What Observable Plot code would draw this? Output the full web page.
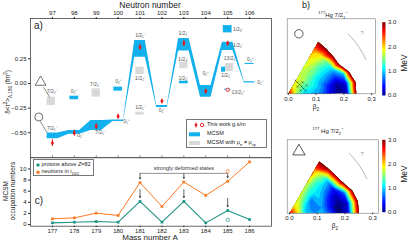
<!DOCTYPE html>
<html><head><meta charset="utf-8">
<script src="https://cdn.jsdelivr.net/npm/d3@7"></script>
<script src="https://cdn.jsdelivr.net/npm/@observablehq/plot@0.6"></script>
<style>
html,body{margin:0;padding:0;background:#fff;overflow:hidden}
#fig{position:relative;width:415px;height:242px;overflow:hidden;font-family:"Liberation Sans",Arial,sans-serif;color:#222;background:#fff}
.t{position:absolute;white-space:nowrap;line-height:1;transform:translate(-50%,-50%)}
.rot{transform:translate(-50%,-50%) rotate(-90deg)}
.t sub,.t sup{font-size:70%;line-height:0}
.leg{position:absolute;border:0.8px solid #777;background:#fff;font-size:5.5px;box-sizing:border-box}
.leg .r{position:absolute;white-space:nowrap;line-height:1;transform:translateY(-50%)}
.leg sub{font-size:70%;line-height:0}
</style></head><body><div id="fig"></div>
<script>
// ================= DATA =================
const neutronTicks = [97, 98, 99, 100, 101, 102, 103, 104, 105, 106];
const massTicks = [177, 178, 179, 180, 181, 182, 183, 184, 185, 186];
const aYTicks = [-0.5, -0.25, 0, 0.25];
const cYTicks = [0, 2, 4, 6, 8, 10];

// panel a: this work, delta <r2> (fm2)
const expN   = [97, 98, 99, 100, 101, 102, 103, 104, 105];
const expVal = [-0.604, -0.503, -0.435, -0.334, 0.367, -0.179, 0.408, -0.078, 0.408];
const expErr = [0.035, 0.03, 0.03, 0.02, 0.03, 0.01, 0.03, 0.012, 0.02];
const expOpenN = [105];
const expOpenVal = [-0.064];

// MCSM band (low / high edge per neutron number)
const bandN  = [97, 98, 99, 100, 101, 102, 103, 104, 105, 106];
const bandLo = [-0.56, -0.516, -0.476, -0.385, 0.266, -0.243, 0.33, -0.14, 0.334, 0.004];
const bandHi = [-0.503, -0.476, -0.375, -0.37, 0.435, -0.223, 0.455, -0.02, 0.418, 0.018];

// other MCSM states (blue)
const mcsmN  = [98, 100, 103, 105, 105, 105, 106];
const mcsmLo = [-0.165, -0.078, -0.003, 0.513, 0.114, -0.068, 0.192];
const mcsmHi = [-0.129, -0.037, 0.023, 0.587, 0.165, -0.058, 0.204];
// MCSM with mu_pi != mu_sp (grey)
const grayN  = [97, 99, 101, 101, 103, 105];
const grayLo = [-0.223, -0.139, 0.091, -0.322, 0.149, 0.121];
const grayHi = [-0.139, -0.054, 0.165, -0.292, 0.216, 0.202];

// level labels
const levelText = ["7/2₂⁻","0₂⁺","7/2₂⁻","0₂⁺","7/2₁⁻","0₁⁺","7/2₁⁻","0₁⁺","1/2₁⁻","1/2₂⁻","1/2₁⁻","0₁⁺","1/2₁⁻","1/2₃⁻","1/2₂⁻","0₁⁺","1/2₃⁻","1/2₁⁻","13/2₁⁺","1/2₂⁻","13/2₂⁺","0₂⁺","0₁⁺"];
const levelN = [96.99,97.99,98.97,100.02,96.99,98.28,99.19,100.38,101.02,101.02,101.02,102.0,103.0,103.0,103.0,104.0,105.49,105.49,105.13,104.95,105.49,106.04,106.5];
const levelY = [-0.078,-0.078,-0.013,0.02,-0.459,-0.526,-0.493,-0.382,0.486,0.05,-0.243,-0.273,0.506,0.243,0.054,0.104,0.547,0.385,0.253,0.081,-0.088,0.243,0.01];

// panel c: MCSM occupation numbers
const protonsOcc  = [0.3, 0.42, 0.54, 0.42, 4.16, 0.42, 4.16, 0.3, 2.53, 0.9];
const neutronsOcc = [1.03, 1.2, 2.05, 1.63, 7.54, 3.25, 7.65, 5.24, 7.78, 11.27];
const openA = [185];
const openProtons = [0.85];
const openNeutrons = [9.58];
const deformedA = [181, 183, 185];

// panel b: potential energy surfaces (MeV) on a beta-gamma grid
const pesGamma = [0, 10, 20, 30, 40, 50, 60];
const pesBeta  = [0.03, 0.06, 0.09, 0.12, 0.15, 0.18, 0.21];
const pesOriginE = [2.8, 2.8];
const pesRimE = 3.1;
const pesRim1 = [0.245, 0.245, 0.232, 0.211, 0.21, 0.212, 0.215];
const pesE1 = [
  [1.7, 1.1, 1.0, 0.8, 0.4, 0.05, 0.2],
  [1.7, 1.2, 1.1, 0.9, 0.45, 0.1, 0.35],
  [1.8, 1.4, 1.3, 1.0, 0.8, 0.6, 1.0],
  [1.8, 1.5, 1.4, 1.2, 1.1, 1.1, null],
  [1.9, 1.7, 1.6, 1.5, 1.4, 1.5, null],
  [1.9, 1.8, 1.7, 1.7, 1.8, 2.0, null],
  [2.0, 1.9, 1.8, 1.9, 2.0, 2.2, null]
];
const pesRim2 = [0.25, 0.25, 0.24, 0.222, 0.215, 0.213, 0.215];
const pesE2 = [
  [2.0, 1.1, 0.9, 1.0, 0.6, 0.05, 0.3],
  [2.0, 1.0, 0.8, 0.9, 0.4, 0.0, 0.3],
  [2.0, 1.1, 0.8, 1.0, 0.5, 0.2, 0.7],
  [2.0, 1.3, 0.8, 1.1, 0.8, 0.5, null],
  [2.0, 1.5, 1.2, 1.2, 1.1, 1.0, null],
  [2.0, 1.7, 1.5, 1.4, 1.4, 1.7, null],
  [2.1, 1.9, 1.8, 1.8, 2.0, 2.3, null]
];
// MCSM basis states (black dots) in (beta cos g, beta sin g)
const basis1X = [0.026, 0.033, 0.041, 0.048, 0.055, 0.033, 0.044, 0.062, 0.066, 0.051];
const basis1Y = [0.048, 0.041, 0.033, 0.026, 0.019, 0.026, 0.012, 0.012, 0.030, 0.041];
const basis2X = [0.16, 0.165, 0.17, 0.175, 0.168, 0.178];
const basis2Y = [0.02, 0.01, 0.015, 0.005, 0.022, 0.012];
const arcGamma = [24, 29, 34, 39, 45];
const arcBeta = 0.305;
const colorTicks = [0, 1, 2, 3];

// ================= STYLE / LAYOUT =================
const BLUE = "#12b0ec", GRAY = "#d9d9d9", RED = "#e51b1f", TEAL = "#1d9383", ORANGE = "#fa7a24";
const FONT = "'Liberation Sans', Arial, sans-serif";
const jet = {type: "linear", domain: [0, 0.375, 1.125, 1.875, 2.625, 3],
  range: ["#00008f", "#0000ff", "#00ffff", "#ffff00", "#ff0000", "#800000"], clamp: true};
const fig = document.getElementById("fig");
function place(el, left, top) {
  el.style.position = "absolute"; el.style.left = left + "px"; el.style.top = top + "px";
  fig.appendChild(el); return el;
}
function label(html, x, y, size, rot) {
  const d = document.createElement("div");
  d.className = "t" + (rot ? " rot" : "");
  d.innerHTML = html; d.style.left = x + "px"; d.style.top = y + "px"; d.style.fontSize = size + "px";
  fig.appendChild(d); return d;
}

// ================= PANEL a =================
const halfW = 0.24;
const band = bandN.flatMap((n, i) => [
  {x: n - halfW, lo: bandLo[i], hi: bandHi[i]},
  {x: n + halfW, lo: bandLo[i], hi: bandHi[i]}
]);
const mcsmShift = [0, 0, 0, 0, -0.19, 0, 0];
const mcsmHalf  = [0.2, 0.2, 0.2, 0.2, 0.09, 0.15, 0.2];
const mcsm = mcsmN.map((n, i) => ({x1: n + mcsmShift[i] - mcsmHalf[i], x2: n + mcsmShift[i] + mcsmHalf[i], y1: mcsmLo[i], y2: mcsmHi[i]}));
const grayShift = [-0.05, 0, 0, 0, 0, 0.08];
const gray = grayN.map((n, i) => ({x1: n + grayShift[i] - 0.19, x2: n + grayShift[i] + 0.19, y1: grayLo[i], y2: grayHi[i]}));
const exp = expN.map((n, i) => ({n, v: expVal[i], e: expErr[i]}));
const expOpen = expOpenN.map((n, i) => ({n, v: expOpenVal[i]}));
const levels = levelText.map((t, i) => ({t, n: levelN[i], v: levelY[i]}));
const aMarkers = [{n: 96.46, v: 0.013, s: "triangle"}, {n: 96.38, v: -0.34, s: "circle"}];
const aLinks = [{x1: 96.6, y1: -0.04, x2: 96.88, y2: -0.14}, {x1: 96.45, y1: -0.385, x2: 96.76, y2: -0.5}];
const yDomA = [-0.754, 0.659];

const plotA = Plot.plot({
  width: 275, height: 158, marginLeft: 30, marginRight: 4, marginTop: 18, marginBottom: 0.7,
  style: {fontSize: "6px", fontFamily: FONT, color: "#222", background: "transparent"},
  x: {domain: [96, 107]}, y: {domain: yDomA},
  marks: [
    Plot.areaY(band, {x: "x", y1: "lo", y2: "hi", fill: BLUE}),
    Plot.rect(gray, {x1: "x1", x2: "x2", y1: "y1", y2: "y2", fill: GRAY}),
    Plot.rect(mcsm, {x1: "x1", x2: "x2", y1: "y1", y2: "y2", fill: BLUE}),
    Plot.ruleX(exp, {x: "n", y1: d => d.v - d.e, y2: d => d.v + d.e, stroke: RED, strokeWidth: 0.9}),
    Plot.dot(exp, {x: "n", y: "v", symbol: "diamond", r: 1.7, fill: RED}),
    Plot.dot(expOpen, {x: "n", y: "v", r: 1.7, stroke: RED, fill: "white", strokeWidth: 0.9}),
    Plot.text(levels, {x: "n", y: "v", text: "t", fontSize: 5, fill: "#555"}),
    Plot.link(aLinks, {x1: "x1", y1: "y1", x2: "x2", y2: "y2", stroke: "#555", strokeWidth: 0.7}),
    Plot.dot(aMarkers, {x: "n", y: "v", symbol: "s", r: 4, stroke: "#333", fill: "white", strokeWidth: 0.7}),
    Plot.ruleX(neutronTicks, {x: d => d, y1: yDomA[0], y2: yDomA[0] + 0.02, stroke: "#333", strokeWidth: 0.6}),
    Plot.frame({stroke: "#444", strokeWidth: 0.8}),
    Plot.axisX({anchor: "top", ticks: neutronTicks, tickFormat: d => d, tickSize: 2, tickPadding: 1.5, label: null}),
    Plot.axisY({ticks: aYTicks, tickFormat: d3.format(".2f"), tickSize: 2, tickPadding: 2, label: null})
  ]
});
place(plotA, 0, 0);

// ================= PANEL c =================
const occ = massTicks.map((a, i) => ({a, p: protonsOcc[i], n: neutronsOcc[i]}));
const occOpen = openA.map((a, i) => ({a, p: openProtons[i], n: openNeutrons[i]}));
const arrN = [{a: 181, y1: 9.15, y2: 8.2}, {a: 183, y1: 9.15, y2: 8.3}, {a: 185, y1: 9.15, y2: 8.4}];
const arrP = [{a: 181, y1: 6.3, y2: 4.85}, {a: 183, y1: 6.3, y2: 4.85}, {a: 185, y1: 4.7, y2: 3.2}];

const plotC = Plot.plot({
  width: 275, height: 100, marginLeft: 30, marginRight: 4, marginTop: 7.3, marginBottom: 24.3,
  style: {fontSize: "6px", fontFamily: FONT, color: "#222", background: "transparent"},
  x: {domain: [176, 187]}, y: {domain: [-0.3, 12]},
  marks: [
    Plot.line(occ, {x: "a", y: "p", stroke: TEAL, strokeWidth: 1.1}),
    Plot.line(occ, {x: "a", y: "n", stroke: ORANGE, strokeWidth: 1}),
    Plot.dot(occ, {x: "a", y: "p", symbol: "square", r: 1.5, fill: TEAL}),
    Plot.dot(occ, {x: "a", y: "n", symbol: "square", r: 1.5, fill: ORANGE}),
    Plot.dot(occOpen, {x: "a", y: "p", r: 1.7, stroke: TEAL, fill: "white", strokeWidth: 0.7}),
    Plot.dot(occOpen, {x: "a", y: "n", r: 1.7, stroke: ORANGE, fill: "white", strokeWidth: 0.7}),
    Plot.ruleY([9.2], {x1: deformedA[0], x2: deformedA[2], stroke: "#777", strokeWidth: 0.8}),
    Plot.arrow(arrN, {x1: "a", x2: "a", y1: "y1", y2: "y2", stroke: "#222", strokeWidth: 0.7, headLength: 3}),
    Plot.arrow(arrP, {x1: "a", x2: "a", y1: "y1", y2: "y2", stroke: "#222", strokeWidth: 0.7, headLength: 3}),
    Plot.text(["strongly deformed states"], {x: 183, y: 10.05, fontSize: 5.5, fill: "#333"}),
    Plot.frame({stroke: "#444", strokeWidth: 0.8}),
    Plot.axisX({ticks: massTicks, tickFormat: d => d, tickSize: 1.5, tickPadding: 1, label: null}),
    Plot.axisY({ticks: cYTicks, tickSize: 2, tickPadding: 2, label: null})
  ]
});
place(plotC, 0, 150);

// ================= PANEL b =================
function pesPoints(E, rim, originE) {
  const pts = [{x: 0, y: 0, e: originE}];
  pesGamma.forEach((g, i) => {
    const r = g * Math.PI / 180;
    pesBeta.forEach((b, j) => {
      const e = E[i][j];
      if (e == null) return;
      pts.push({x: b * Math.cos(r), y: b * Math.sin(r), e});
    });
    pts.push({x: rim[i] * Math.cos(r), y: rim[i] * Math.sin(r), e: pesRimE});
  });
  return pts;
}
function pesPlot(E, rim, originE, basisX, basisY, marker, xDom, yDom, w, h, mb, qx, qy, id) {
  const pts = pesPoints(E, rim, originE);
  const basis = basisX.map((x, i) => ({x, y: basisY[i]}));
  const arc = arcGamma.map(g => ({x: arcBeta * Math.cos(g * Math.PI / 180), y: arcBeta * Math.sin(g * Math.PI / 180)}));
  const p = Plot.plot({
    width: w, height: h, marginLeft: 6.7, marginRight: 3, marginTop: 18.3, marginBottom: mb,
    style: {fontSize: "6px", fontFamily: FONT, color: "#222", background: "transparent"},
    x: {domain: xDom}, y: {domain: yDom, axis: null}, color: jet,
    marks: [
      Plot.contour(pts, {x: "x", y: "y", fill: "e", interpolate: "barycentric",
        thresholds: d3.range(0, 3.3, 0.15), pixelSize: 1, stroke: "none"}),
      Plot.dot(basis, {x: "x", y: "y", symbol: "times", r: 0.9, stroke: "#111", strokeWidth: 0.5}),
      Plot.line(arc, {x: "x", y: "y", curve: "natural", stroke: "#999", strokeWidth: 0.7}),
      Plot.text(["?"], {x: qx, y: qy, fontSize: 5, fill: "#888"}),
      Plot.dot([marker], {x: "x", y: "y", symbol: "s", r: marker.r, stroke: "#111", fill: "none", strokeWidth: 0.7}),
      Plot.frame({stroke: "#777", strokeWidth: 0.6}),
      Plot.axisX({ticks: [0, 0.1, 0.2, 0.3], tickFormat: d3.format(".1f"), tickSize: 1.5, tickPadding: 1, label: null})
    ]
  });
  // clip the surface to the physical (beta, gamma) wedge
  const sx = p.scale("x"), sy = p.scale("y");
  const poly = [[0, 0]].concat(pesGamma.map((g, i) => [rim[i] * Math.cos(g * Math.PI / 180), rim[i] * Math.sin(g * Math.PI / 180)]));
  const dpath = "M" + poly.map(([x, y]) => sx.apply(x) + "," + sy.apply(y)).join("L") + "Z";
  const svg = d3.select(p);
  svg.append("defs").append("clipPath").attr("id", id).append("path").attr("d", dpath);
  svg.selectAll('g[aria-label="contour"]').attr("clip-path", `url(#${id})`);
  return p;
}
const pesTop = pesPlot(pesE1, pesRim1, pesOriginE[0], basis1X, basis1Y, {x: 0.038, y: 0.216, s: "circle", r: 4.2},
  [-0.004, 0.314], [0, 0.27], 98, 105, 11.7, 0.266, 0.218, "clipTop");
place(pesTop, 280, 0);
const pesBot = pesPlot(pesE2, pesRim2, pesOriginE[1], basis2X, basis2Y, {x: 0.034, y: 0.223, s: "triangle", r: 4.6},
  [-0.0083, 0.321], [0, 0.2647], 101, 105, 13.3, 0.262, 0.213, "clipBot");
place(pesBot, 280, 121);

function colorbar(top, mt, mb) {
  const p = Plot.plot({
    width: 37, height: 90, marginLeft: 3.7, marginRight: 30, marginTop: mt, marginBottom: mb,
    style: {fontSize: "6px", fontFamily: FONT, color: "#222", background: "transparent"},
    x: {domain: [0, 1], axis: null}, y: {domain: [0, 3]}, color: jet,
    marks: [
      Plot.raster({fill: (x, y) => y, x1: 0, x2: 1, y1: 0, y2: 3, width: 1, height: 120, imageRendering: "auto"}),
      Plot.axisY({anchor: "right", ticks: colorTicks, tickFormat: d3.format(".1f"), tickSize: 0, tickPadding: 2.5, label: null})
    ]
  });
  return place(p, 378, top);
}
colorbar(15, 6.7, 10);
colorbar(133, 6.3, 11.3);

// ================= TEXT =================
label("Neutron number", 150, 4.6, 8.5);
label("Mass number A", 150, 238.1, 8);
label("a)", 38.5, 25.5, 10);
label("c)", 39, 201, 10);
label("b)", 306, 4.8, 9);
label("δ&lt;r<sup>2</sup>&gt;<sub>A,186</sub> (fm<sup>2</sup>)", 8, 92, 6.5, true);
label("MCSM", 6, 191, 6.5, true);
label("occupation numbers", 13, 191, 6.5, true);
label("<sup>177</sup>Hg 7/2<sub>1</sub><sup>−</sup>", 333, 15, 6);
label("<sup>177</sup> Hg 7/2<sub>2</sub><sup>−</sup>", 328, 131, 6);
label("β<sub>2</sub>", 316, 107, 6.5);
label("β<sub>2</sub>", 335, 225.5, 6.5);
label("MeV", 404, 62.5, 8.5, true);
label("MeV", 404, 174, 8.5, true);

// legends
const legA = document.createElement("div");
legA.className = "leg";
legA.style.cssText += "left:186px;top:119px;width:81px;height:28.5px;";
legA.innerHTML = `
<svg width="20" height="28" style="position:absolute;left:0;top:0">
  <line x1="9" x2="9" y1="2.4" y2="7.6" stroke="${RED}" stroke-width="0.9"/>
  <path d="M9,3.2L10.7,5L9,6.8L7.3,5Z" fill="${RED}"/>
  <circle cx="15" cy="5" r="1.7" fill="white" stroke="${RED}" stroke-width="0.9"/>
  <rect x="2" y="12.3" width="11" height="4" fill="${BLUE}"/>
  <rect x="2" y="21" width="11" height="4" fill="${GRAY}"/>
</svg>
<div class="r" style="left:20px;top:5px">This work g.s/m</div>
<div class="r" style="left:20px;top:14.3px">MCSM</div>
<div class="r" style="left:20px;top:23px">MCSM with μ<sub>π</sub> ≠ μ<sub>sp</sub></div>`;
fig.appendChild(legA);

const legC = document.createElement("div");
legC.className = "leg";
legC.style.cssText += "left:33px;top:159px;width:61px;height:17px;";
legC.innerHTML = `
<svg width="8" height="17" style="position:absolute;left:0;top:0">
  <circle cx="4" cy="5" r="1.7" fill="${TEAL}"/>
  <circle cx="4" cy="12.3" r="1.7" fill="${ORANGE}"/>
</svg>
<div class="r" style="left:7.5px;top:5px">protons above <i>Z</i>=82</div>
<div class="r" style="left:7.5px;top:12.3px">neutrons in i<sub>13/2</sub></div>`;
fig.appendChild(legC);
</script></body></html>
